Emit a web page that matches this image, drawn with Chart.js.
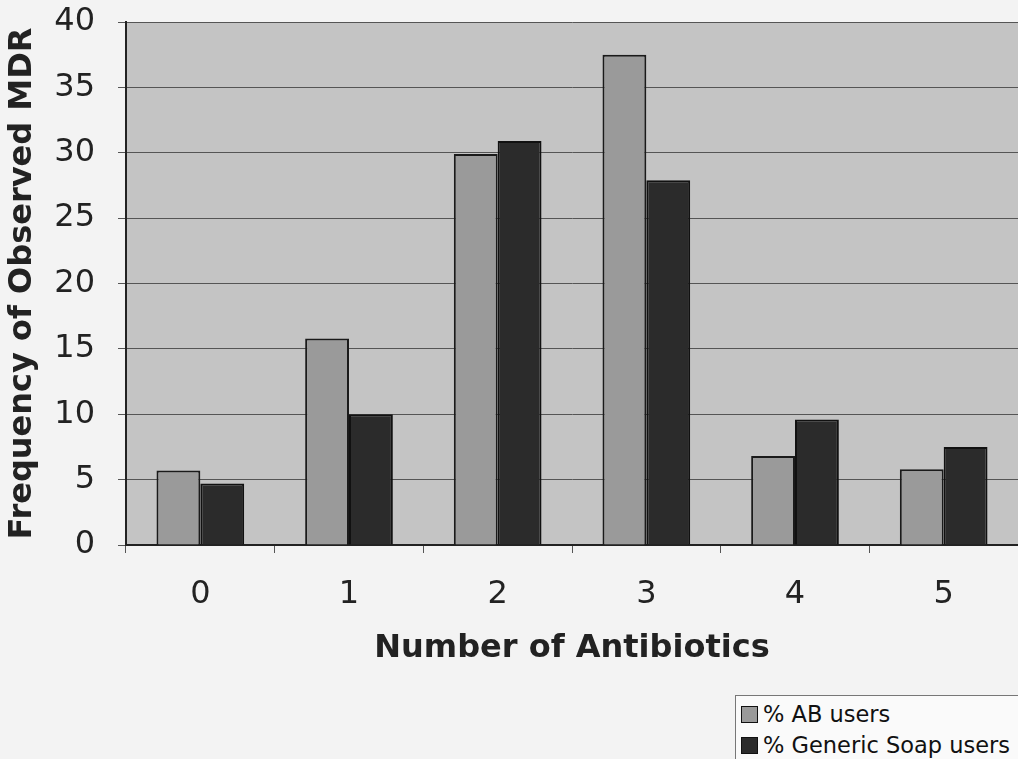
<!DOCTYPE html>
<html>
<head>
<meta charset="utf-8">
<script src="https://cdn.jsdelivr.net/npm/chart.js@4/dist/chart.umd.min.js"></script>
<style>
  html, body { margin: 0; padding: 0; background: #f3f3f3; }
  #wrap { position: relative; width: 1018px; height: 759px; overflow: hidden; }
  #legend {
    position: absolute; left: 735px; top: 695px; width: 300px; height: 80px;
    border: 1px solid #777; background: #fafafa;
    font-family: "DejaVu Sans", Verdana, sans-serif; font-size: 22.5px; color: #111;
  }
  .item { position: absolute; left: 5px; display: flex; align-items: center; }
  .sw { width: 15px; height: 15px; border: 1px solid #111; margin-right: 5px; }
</style>
</head>
<body>
<div id="wrap">
  <canvas id="myChart" width="1018" height="759"></canvas>
  <div id="legend">
    <div class="item" style="top:5px"><span class="sw" style="background:#9a9a9a"></span>% AB users</div>
    <div class="item" style="top:36px"><span class="sw" style="background:#2b2b2b"></span>% Generic Soap users</div>
  </div>
</div>
<script>
const categories = ['0', '1', '2', '3', '4', '5'];
const abUsers = [5.7, 15.8, 29.9, 37.5, 6.8, 5.8];
const soapUsers = [4.7, 10.0, 30.9, 27.9, 9.6, 7.5];
const yTicks = [0, 5, 10, 15, 20, 25, 30, 35, 40];

// plot area fill
const plotBg = {
  id: 'plotBg',
  beforeDraw(chart) {
    const { ctx, chartArea: a } = chart;
    ctx.save();
    ctx.fillStyle = '#c4c4c4';
    ctx.fillRect(a.left, a.top, a.right - a.left, a.bottom - a.top);
    ctx.restore();
  },
};

const font = '"DejaVu Sans", Verdana, sans-serif';

new Chart(document.getElementById('myChart').getContext('2d'), {
  type: 'bar',
  data: {
    labels: categories,
    datasets: [
      {
        label: '% AB users',
        data: abUsers,
        backgroundColor: '#9a9a9a',
        borderColor: '#1a1a1a',
        borderWidth: 2,
      },
      {
        label: '% Generic Soap users',
        data: soapUsers,
        backgroundColor: '#2b2b2b',
        borderColor: '#111',
        borderWidth: 2,
      },
    ],
  },
  options: {
    responsive: false,
    animation: false,
    layout: { padding: { left: 0, right: 0, top: 22, bottom: 89 } },
    plugins: { legend: { display: false }, tooltip: { enabled: false } },
    datasets: { bar: { categoryPercentage: 0.59, barPercentage: 1 } },
    scales: {
      x: {
        grid: { drawOnChartArea: false, offset: true, tickLength: 8, color: '#555' },
        border: { color: '#222', width: 2 },
        ticks: { font: { family: font, size: 32 }, color: '#222', padding: 22 },
        title: {
          display: true,
          text: 'Number of Antibiotics',
          font: { family: font, size: 32, weight: 'bold' },
          color: '#222',
          padding: { top: 0, bottom: 2 },
        },
        afterFit(scale) {
          scale.height = 125;
          scale.paddingLeft = 0;
          scale.paddingRight = 0;
        },
      },
      y: {
        min: 0,
        max: 40,
        afterBuildTicks(scale) { scale.ticks = yTicks.map((v) => ({ value: v })); },
        grid: { color: '#555', lineWidth: 1, tickLength: 8 },
        border: { color: '#222', width: 2 },
        ticks: { font: { family: font, size: 32 }, color: '#222', padding: 23 },
        title: {
          display: true,
          text: 'Frequency of Observed MDR',
          font: { family: font, size: 32, weight: 'bold' },
          color: '#222',
          padding: { top: 3, bottom: 0 },
        },
        afterFit(scale) {
          scale.width = 126;
          scale.paddingTop = 0;
          scale.paddingBottom = 0;
        },
      },
    },
  },
  plugins: [plotBg],
});
</script>
</body>
</html>
